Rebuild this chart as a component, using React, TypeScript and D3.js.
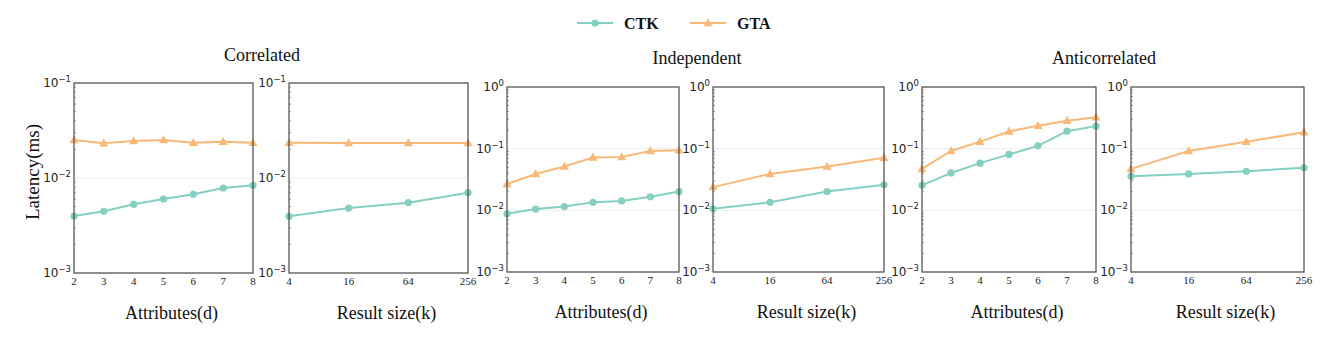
import React from "react";
import * as d3 from "d3";

const attrs = [2, 3, 4, 5, 6, 7, 8];
const sizes = [4, 16, 64, 256];
const seriesNames = ["CTK", "GTA"];
const groupTitles = ["Correlated", "Independent", "Anticorrelated"];
const xLabels = ["Attributes(d)", "Result size(k)"];

const corrAttrCTK = [0.00398, 0.00446, 0.00528, 0.00601, 0.00673, 0.00785, 0.00838];
const corrAttrGTA = [0.0251, 0.0232, 0.0245, 0.0251, 0.0235, 0.0241, 0.0235];
const corrSizeCTK = [0.00395, 0.00483, 0.0055, 0.007];
const corrSizeGTA = [0.0235, 0.0233, 0.0233, 0.0233];
const indAttrCTK = [0.0088, 0.0105, 0.0115, 0.0135, 0.0142, 0.0166, 0.0202];
const indAttrGTA = [0.0267, 0.0389, 0.0513, 0.0721, 0.073, 0.0916, 0.094];
const indSizeCTK = [0.0106, 0.0135, 0.0202, 0.026];
const indSizeGTA = [0.0238, 0.0389, 0.0513, 0.0712];
const antiAttrCTK = [0.0254, 0.0404, 0.0582, 0.0807, 0.111, 0.192, 0.232];
const antiAttrGTA = [0.047, 0.0916, 0.13, 0.19, 0.235, 0.284, 0.322];
const antiSizeCTK = [0.0356, 0.0389, 0.043, 0.0489];
const antiSizeGTA = [0.047, 0.0916, 0.129, 0.185];

const COLORS = ["#84cfc1", "#f8b978"];

type Panel = {
  left: number; right: number; top: number; bottom: number;
  xs: number[]; logX: boolean; yMin: number; yMax: number;
  ctk: number[]; gta: number[]; xLabel: string; ylabel?: boolean;
};

const panels: Panel[] = [
  { left: 74, right: 253, top: 83, bottom: 273, xs: attrs, logX: false, yMin: 1e-3, yMax: 1e-1, ctk: corrAttrCTK, gta: corrAttrGTA, xLabel: xLabels[0], ylabel: true },
  { left: 289, right: 468, top: 83, bottom: 273, xs: sizes, logX: true, yMin: 1e-3, yMax: 1e-1, ctk: corrSizeCTK, gta: corrSizeGTA, xLabel: xLabels[1] },
  { left: 507, right: 679, top: 87, bottom: 272, xs: attrs, logX: false, yMin: 1e-3, yMax: 1, ctk: indAttrCTK, gta: indAttrGTA, xLabel: xLabels[0] },
  { left: 713, right: 884, top: 87, bottom: 272, xs: sizes, logX: true, yMin: 1e-3, yMax: 1, ctk: indSizeCTK, gta: indSizeGTA, xLabel: xLabels[1] },
  { left: 922, right: 1096, top: 87, bottom: 272, xs: attrs, logX: false, yMin: 1e-3, yMax: 1, ctk: antiAttrCTK, gta: antiAttrGTA, xLabel: xLabels[0] },
  { left: 1131, right: 1304, top: 87, bottom: 272, xs: sizes, logX: true, yMin: 1e-3, yMax: 1, ctk: antiSizeCTK, gta: antiSizeGTA, xLabel: xLabels[1] },
];

const titlePos = [
  { x: 262, y: 61 },
  { x: 697, y: 64 },
  { x: 1104, y: 64 },
];

const SERIF = "'Liberation Serif', 'Times New Roman', serif";
const SANS = "'DejaVu Sans', sans-serif";

function Triangle({ x, y, s, color }: { x: number; y: number; s: number; color: string }) {
  const h = s * 0.9;
  return <path d={`M${x},${y - h * 0.6} L${x + s / 2},${y + h * 0.4} L${x - s / 2},${y + h * 0.4} Z`} fill={color} />;
}

function PanelView({ p }: { p: Panel }) {
  const x = p.logX
    ? d3.scaleLog().base(2).domain([p.xs[0], p.xs[p.xs.length - 1]]).range([p.left, p.right])
    : d3.scaleLinear().domain([p.xs[0], p.xs[p.xs.length - 1]]).range([p.left, p.right]);
  const y = d3.scaleLog().domain([p.yMin, p.yMax]).range([p.bottom, p.top]);
  const decades: number[] = [];
  for (let e = Math.round(Math.log10(p.yMin)); e <= Math.round(Math.log10(p.yMax)); e++) decades.push(e);
  const minors: number[] = [];
  for (let e = decades[0]; e < decades[decades.length - 1]; e++) {
    for (let m = 2; m <= 9; m++) minors.push(m * Math.pow(10, e));
  }
  const line = d3.line<number>().x((_, i) => x(p.xs[i])).y((v) => y(v));
  const cx = (p.left + p.right) / 2;
  return (
    <g>
      {decades.map((e) => (
        <line key={"g" + e} x1={p.left} x2={p.right} y1={y(Math.pow(10, e))} y2={y(Math.pow(10, e))} stroke="#ececec" strokeWidth={1} />
      ))}
      {minors.map((m, i) => (
        <line key={"m" + i} x1={p.left} x2={p.left + 2} y1={y(m)} y2={y(m)} stroke="#666" strokeWidth={0.6} />
      ))}
      <path d={line(p.gta) || ""} fill="none" stroke={COLORS[1]} strokeWidth={2} />
      <path d={line(p.ctk) || ""} fill="none" stroke={COLORS[0]} strokeWidth={2} />
      {p.gta.map((v, i) => (
        <Triangle key={"t" + i} x={x(p.xs[i])} y={y(v)} s={9} color={COLORS[1]} />
      ))}
      {p.ctk.map((v, i) => (
        <circle key={"c" + i} cx={x(p.xs[i])} cy={y(v)} r={3.6} fill={COLORS[0]} />
      ))}
      <rect x={p.left} y={p.top} width={p.right - p.left} height={p.bottom - p.top} fill="none" stroke="#4a4a4a" strokeWidth={1.2} />
      {decades.map((e) => (
        <text key={"yl" + e} x={p.left - 3} y={y(Math.pow(10, e)) + 4} textAnchor="end" fontFamily={SANS} fontSize={12} fill="#222">
          10
          <tspan fontSize={8.5} dy={-5}>{e === 0 ? "0" : "\u2212" + Math.abs(e)}</tspan>
        </text>
      ))}
      {p.xs.map((v, i) => (
        <text key={"xl" + i} x={x(v)} y={p.bottom + 12} textAnchor="middle" fontFamily={SERIF} fontSize={11} fill="#222">
          {v}
        </text>
      ))}
      <text x={cx + 8} y={p.bottom + 46} textAnchor="middle" fontFamily={SERIF} fontSize={18} fill="#111">
        {p.xLabel}
      </text>
      {p.ylabel && (
        <text transform={`translate(39,172) rotate(-90)`} textAnchor="middle" fontFamily={SERIF} fontSize={19} fill="#111">
          Latency(ms)
        </text>
      )}
    </g>
  );
}

export default function App() {
  const legendItems = [
    { name: seriesNames[0], x0: 577, color: COLORS[0], tri: false },
    { name: seriesNames[1], x0: 690, color: COLORS[1], tri: true },
  ];
  return (
    <svg width={1322} height={344} style={{ position: "absolute", left: 0, top: 0, background: "#fff" }}>
      <rect x={0} y={0} width={1322} height={344} fill="#fff" />
      {legendItems.map((it) => (
        <g key={it.name}>
          <line x1={it.x0} x2={it.x0 + 36} y1={23} y2={23} stroke={it.color} strokeWidth={2} />
          {it.tri ? <Triangle x={it.x0 + 18} y={23} s={9} color={it.color} /> : <circle cx={it.x0 + 18} cy={23} r={3.6} fill={it.color} />}
          <text x={it.x0 + 47} y={29} fontFamily={SERIF} fontWeight="bold" fontSize={16} fill="#111">
            {it.name}
          </text>
        </g>
      ))}
      {groupTitles.map((t, i) => (
        <text key={t} x={titlePos[i].x} y={titlePos[i].y} textAnchor="middle" fontFamily={SERIF} fontSize={18} fill="#111">
          {t}
        </text>
      ))}
      {panels.map((p, i) => (
        <PanelView key={i} p={p} />
      ))}
    </svg>
  );
}
